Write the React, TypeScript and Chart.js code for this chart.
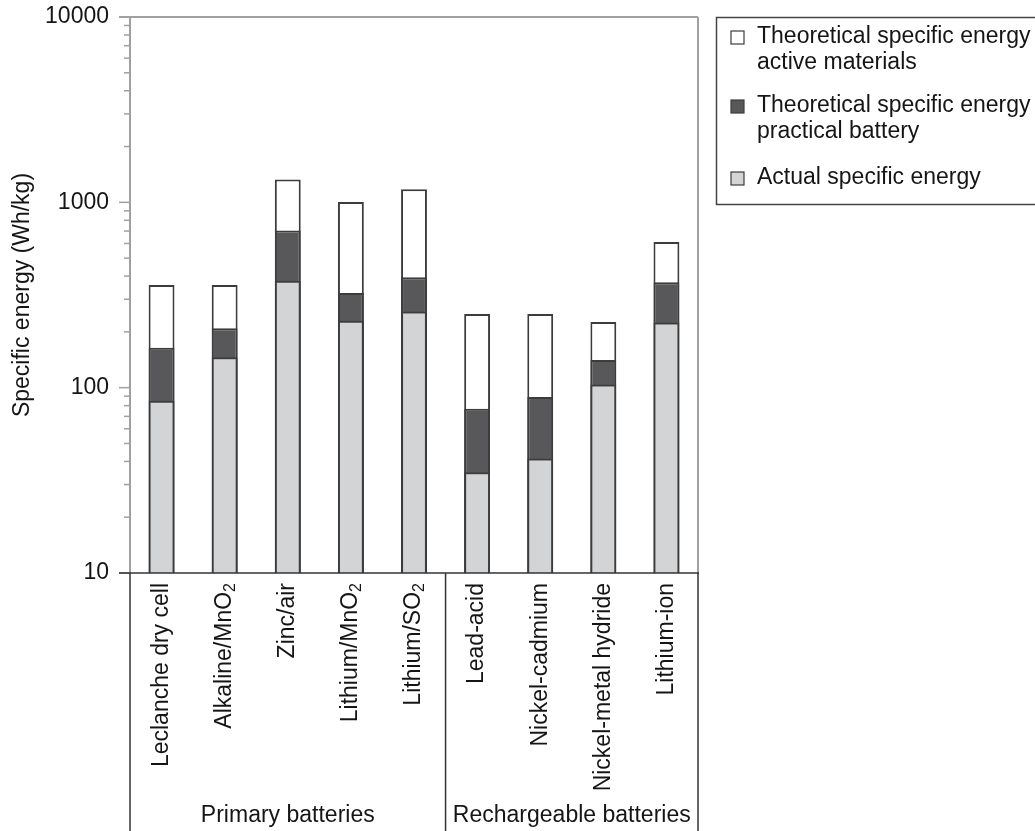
import React, { useEffect, useRef } from 'react';
import { Chart, registerables } from 'chart.js';

Chart.register(...registerables);

const categories = [
  'Leclanche dry cell',
  'Alkaline/MnO₂',
  'Zinc/air',
  'Lithium/MnO₂',
  'Lithium/SO₂',
  'Lead-acid',
  'Nickel-cadmium',
  'Nickel-metal hydride',
  'Lithium-ion',
];
const activeMaterials = [358, 358, 1330, 1005, 1175, 250, 250, 226, 611];
const practicalBattery = [164, 209, 705, 324, 394, 77, 89, 141, 371];
const actualEnergy = [85, 146, 378, 230, 258, 35, 41.5, 104, 225];
const yTickValues = [10, 100, 1000, 10000];
const groupLabels = ['Primary batteries', 'Rechargeable batteries'];
const groupSizes = [5, 4];
const legendLines = [
  ['Theoretical specific energy', 'active materials'],
  ['Theoretical specific energy', 'practical battery'],
  ['Actual specific energy'],
];
const yTitle = 'Specific energy (Wh/kg)';

const FONT = '"Liberation Sans", Arial, Helvetica, sans-serif';
const TEXT = '#151515';
const WHITE = '#ffffff';
const DARK = '#58585a';
const LIGHT = '#d3d4d6';
const EDGE = '#3c3c3c';
const FRAME = '#a0a0a0';
const AXIS = '#333333';
const FILLS = [WHITE, DARK, LIGHT];

function drawRotatedLabel(ctx: CanvasRenderingContext2D, text: string, px: number, py: number) {
  const segs: { t: string; sub: boolean }[] = [];
  let buf = '';
  for (const ch of text) {
    if (ch === '₂') {
      if (buf) segs.push({ t: buf, sub: false });
      buf = '';
      segs.push({ t: '2', sub: true });
    } else buf += ch;
  }
  if (buf) segs.push({ t: buf, sub: false });
  const main = `23px ${FONT}`;
  const sub = `16px ${FONT}`;
  let total = 0;
  const widths = segs.map((s) => {
    ctx.font = s.sub ? sub : main;
    const w = ctx.measureText(s.t).width;
    total += w;
    return w;
  });
  ctx.save();
  ctx.translate(px, py);
  ctx.rotate(-Math.PI / 2);
  ctx.textAlign = 'left';
  ctx.textBaseline = 'middle';
  ctx.fillStyle = TEXT;
  let cx = -total;
  segs.forEach((s, i) => {
    ctx.font = s.sub ? sub : main;
    ctx.fillText(s.t, cx, s.sub ? 6 : 0);
    cx += widths[i];
  });
  ctx.restore();
}

const decorPlugin = {
  id: 'decor',
  afterDraw(chart: any) {
    const { ctx, chartArea: a, scales } = chart;
    const xs = scales.x;
    const ys = scales.y;
    const H = chart.height;
    const line = (x1: number, y1: number, x2: number, y2: number) => {
      ctx.beginPath();
      ctx.moveTo(x1, y1);
      ctx.lineTo(x2, y2);
      ctx.stroke();
    };
    ctx.save();
    // light frame: top, right, y axis
    ctx.strokeStyle = FRAME;
    ctx.lineWidth = 2;
    line(a.left - 11, a.top, a.right, a.top);
    line(a.right, a.top, a.right, a.bottom);
    line(a.left, a.top, a.left, a.bottom);
    // y ticks (major and minor)
    ctx.lineWidth = 1.5;
    for (let e = 1; e < 4; e++) {
      for (let m = 1; m <= 9; m++) {
        const v = m * Math.pow(10, e);
        const py = ys.getPixelForValue(v);
        const len = m === 1 ? 11 : 6;
        line(a.left - len, py, a.left, py);
      }
    }
    // bottom axis and lines below
    ctx.strokeStyle = AXIS;
    ctx.lineWidth = 1.5;
    line(a.left - 11, a.bottom, a.right + 1, a.bottom);
    const sep = (xs.getPixelForValue(groupSizes[0] - 1) + xs.getPixelForValue(groupSizes[0])) / 2;
    line(a.left, a.bottom, a.left, H);
    line(sep, a.bottom, sep, H);
    line(a.right, a.bottom, a.right, H);

    // category labels
    categories.forEach((c, i) => {
      drawRotatedLabel(ctx, c, xs.getPixelForValue(i), a.bottom + 10);
    });

    // group labels
    ctx.font = `23px ${FONT}`;
    ctx.fillStyle = TEXT;
    ctx.textAlign = 'center';
    ctx.textBaseline = 'alphabetic';
    ctx.fillText(groupLabels[0], (a.left + sep) / 2, 822);
    ctx.fillText(groupLabels[1], (sep + a.right) / 2, 822);

    // legend
    ctx.strokeStyle = '#444444';
    ctx.lineWidth = 1.5;
    ctx.strokeRect(716.5, 17.5, 420, 187);
    const baselines = [[43, 69], [112, 138], [184]];
    ctx.textAlign = 'left';
    legendLines.forEach((lines, i) => {
      const b0 = baselines[i][0];
      ctx.fillStyle = FILLS[i];
      ctx.fillRect(731, b0 - 12, 13, 13);
      ctx.strokeStyle = EDGE;
      ctx.lineWidth = 1.2;
      ctx.strokeRect(731, b0 - 12, 13, 13);
      ctx.fillStyle = TEXT;
      lines.forEach((t, j) => {
        ctx.fillText(t, 757, baselines[i][j]);
      });
    });
    ctx.restore();
  },
};

export default function App() {
  const ref = useRef<HTMLCanvasElement>(null);
  useEffect(() => {
    const labelsDs = ['Theoretical specific energy active materials', 'Theoretical specific energy practical battery', 'Actual specific energy'];
    const chart = new Chart(ref.current as HTMLCanvasElement, {
      type: 'bar',
      data: {
        labels: categories,
        datasets: [
          { label: labelsDs[0], data: activeMaterials, backgroundColor: WHITE, borderColor: EDGE, borderWidth: 2, order: 3 },
          { label: labelsDs[1], data: practicalBattery, backgroundColor: DARK, borderColor: EDGE, borderWidth: 2, order: 2 },
          { label: labelsDs[2], data: actualEnergy, backgroundColor: LIGHT, borderColor: EDGE, borderWidth: 2, order: 1 },
        ],
      },
      options: {
        animation: false,
        responsive: true,
        maintainAspectRatio: false,
        layout: { padding: { top: 17, right: 337, left: 0, bottom: 0 } },
        datasets: {
          bar: { grouped: false, barPercentage: 0.41, categoryPercentage: 1, borderSkipped: 'start' },
        } as any,
        plugins: { legend: { display: false }, tooltip: { enabled: false } },
        scales: {
          x: {
            type: 'category',
            grid: { display: false },
            border: { display: false },
            ticks: { display: false },
            afterFit: (s: any) => {
              s.height = 258;
              s.paddingLeft = 0;
              s.paddingRight = 0;
            },
          },
          y: {
            type: 'logarithmic',
            min: 10,
            max: 10000,
            grid: { display: false },
            border: { display: false },
            afterBuildTicks: (s: any) => {
              s.ticks = yTickValues.map((v) => ({ value: v }));
            },
            ticks: {
              padding: 13,
              color: TEXT,
              font: { family: FONT, size: 23 },
              callback: (v: any) => String(v),
            },
            title: {
              display: true,
              text: yTitle,
              color: TEXT,
              font: { family: FONT, size: 23 },
              padding: { top: 9, bottom: 0 },
            },
            afterFit: (s: any) => {
              s.width = 130;
              s.paddingTop = 0;
              s.paddingBottom = 0;
            },
          },
        },
      } as any,
      plugins: [decorPlugin],
    });
    return () => chart.destroy();
  }, []);
  return (
    <div style={{ position: 'absolute', left: 0, top: 0, width: 1035, height: 831, background: '#fff' }}>
      <canvas ref={ref} />
    </div>
  );
}
